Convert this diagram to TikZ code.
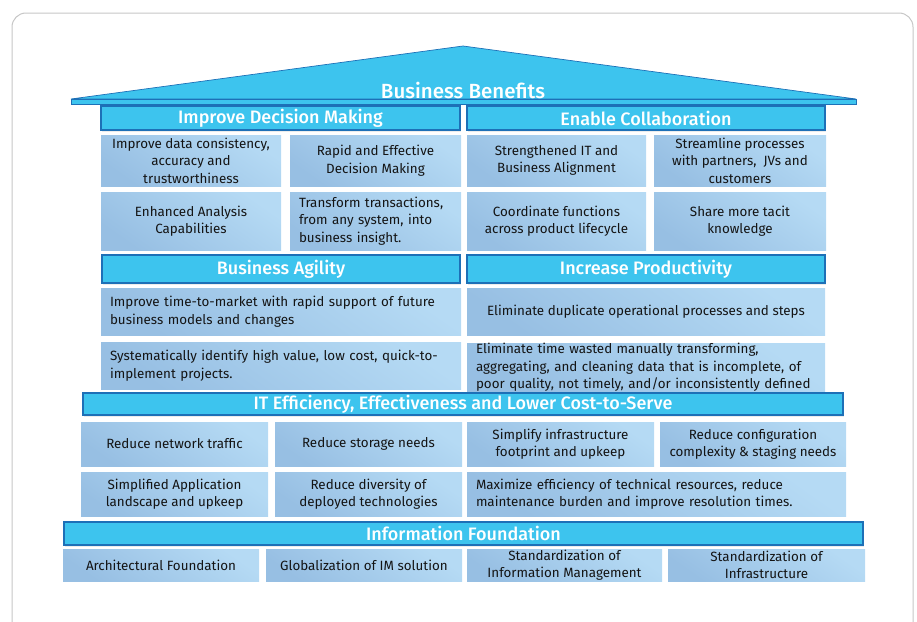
\documentclass[tikz,border=0pt]{standalone}
\usepackage{fontspec}
\setmainfont{Fira Sans}
\newfontfamily\headfont{Fira Sans Medium}
\usetikzlibrary{shadows}

\definecolor{benefit}{HTML}{3DC4EE}
\definecolor{edge}{HTML}{1D70B7}
\definecolor{cellhi}{HTML}{B5DAF4}
\definecolor{celllo}{HTML}{97BFE3}
\definecolor{ink}{HTML}{141414}
\definecolor{frame}{HTML}{C6C6C6}

\tikzstyle{roof} = [fill=benefit, draw=edge, line width=.7pt]
\tikzstyle{head} = [draw=edge, line width=1.6pt, fill=benefit, text=white, inner sep=0pt,
  drop shadow={opacity=.15, shadow xshift=1pt, shadow yshift=-1.5pt},
  font=\headfont\fontsize{18}{20}\selectfont]
\tikzstyle{cell} = [top color=cellhi, bottom color=celllo, shading angle=-35, text=ink,
  inner sep=0pt, align=center, font=\fontsize{13.4}{17.5}\selectfont]
\tikzstyle{lcell} = [cell, align=left]

\begin{document}
\begin{tikzpicture}[x=1pt, y=-1pt]
    \useasboundingbox (0,0) rectangle (917,621);
    \draw[frame, line width=1pt, rounded corners=14pt] (12,13) rectangle (913,650);

    % roof
    \draw[roof] (71,99) -- (463,46) -- (856,99) -- cycle;
    \draw (463,98) node[anchor=base, text=white, font=\headfont\fontsize{20.5}{22}\selectfont] (bb) {Business Benefits};
    \draw[roof] (71,99) rectangle (856,104);

    \draw (280.5,118) node[head, minimum width=359, minimum height=24] (idm) {Improve Decision Making};
    \draw (646,118) node[head, minimum width=358, minimum height=24] (ecol) {Enable Collaboration};

    \draw (191,160.5) node[cell, minimum width=180, minimum height=51] (dm1) {Improve data consistency,\\accuracy and\\trustworthiness};
    \draw (375.5,160.5) node[cell, minimum width=171, minimum height=51] (dm2) {Rapid and Effective\\Decision Making};
    \draw (556.5,160.5) node[cell, minimum width=179, minimum height=51] (ec1) {Strengthened IT and\\Business Alignment};
    \draw (740,160.5) node[cell, minimum width=172, minimum height=51] (ec2) {Streamline processes\\with partners,~ JVs and\\customers};

    \draw (191,221) node[cell, minimum width=180, minimum height=58] (dm3) {Enhanced Analysis\\Capabilities};
    \draw (375.5,221) node[lcell, minimum width=171, minimum height=58, text width=153] (dm4) {Transform transactions,\\from any system, into\\business insight.};
    \draw (556.5,221) node[cell, minimum width=179, minimum height=58] (ec3) {Coordinate functions\\across product lifecycle};
    \draw (740,221) node[cell, minimum width=172, minimum height=58] (ec4) {Share more tacit\\knowledge};

    \draw (281,269) node[head, minimum width=358, minimum height=28] (agil) {Business Agility};
    \draw (646,269) node[head, minimum width=358, minimum height=28] (prod) {Increase Productivity};

    \draw (281,311.5) node[lcell, minimum width=360, minimum height=47, text width=342] (ag1) {Improve time-to-market with rapid support of future\\business models and changes};
    \draw (281,365.5) node[lcell, minimum width=360, minimum height=47, text width=342] (ag2) {Systematically identify high value, low cost, quick-to-\\implement projects.};
    \draw (646,311.5) node[cell, minimum width=358, minimum height=47] (pr1) {Eliminate duplicate operational processes and steps};
    \draw (646,367.5) node[lcell, minimum width=358, minimum height=47, text width=340] (pr2) {Eliminate time wasted manually transforming,\\aggregating, and cleaning data that is incomplete, of\\poor quality, not timely, and/or inconsistently defined};

    \draw (463,404) node[head, minimum width=760, minimum height=22] (itef) {IT Efficiency, Effectiveness and Lower Cost-to-Serve};

    \draw (174.5,444) node[cell, minimum width=187, minimum height=44] (it1) {Reduce network traffic};
    \draw (368.5,444) node[cell, minimum width=187, minimum height=44] (it2) {Reduce storage needs};
    \draw (560.5,444) node[cell, minimum width=187, minimum height=44] (it3) {Simplify infrastructure\\footprint and upkeep};
    \draw (753,444) node[cell, minimum width=186, minimum height=44] (it4) {Reduce configuration\\complexity \& staging needs};
    \draw (174.5,494) node[cell, minimum width=187, minimum height=44] (it5) {Simplified Application\\landscape and upkeep};
    \draw (368.5,494) node[cell, minimum width=187, minimum height=44] (it6) {Reduce diversity of\\deployed technologies};
    \draw (656.5,494) node[lcell, minimum width=379, minimum height=44, text width=361] (it7) {Maximize efficiency of technical resources, reduce\\maintenance burden and improve resolution times.};

    \draw (463.5,533.5) node[head, minimum width=799, minimum height=23] (info) {Information Foundation};

    \draw (161,565) node[cell, minimum width=196, minimum height=32] (fd1) {Architectural Foundation};
    \draw (364,565) node[cell, minimum width=196, minimum height=32] (fd2) {Globalization of IM solution};
    \draw (564.5,565) node[cell, minimum width=195, minimum height=32] (fd3) {Standardization of\\Information Management};
    \draw (766.5,565) node[cell, minimum width=197, minimum height=32] (fd4) {Standardization of\\Infrastructure};
\end{tikzpicture}
\end{document}
